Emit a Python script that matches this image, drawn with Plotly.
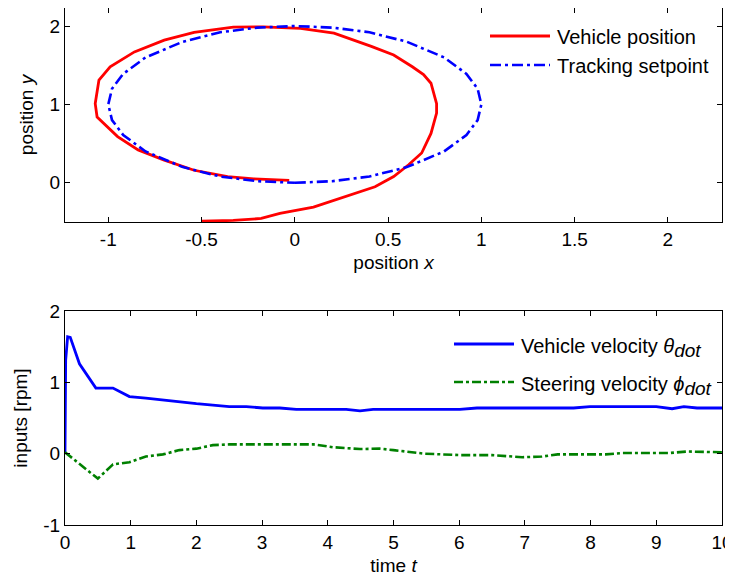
import plotly.graph_objects as go
from plotly.subplots import make_subplots

# ---- data: top panel (positions) ----
veh_x = [-0.50, -0.33, -0.18, -0.08, 0.10, 0.27, 0.43, 0.53, 0.61, 0.68, 0.73, 0.76, 0.76, 0.73,
         0.69, 0.63, 0.53, 0.41, 0.21, 0.03, -0.17, -0.33, -0.54, -0.70, -0.86, -0.99, -1.05,
         -1.07, -1.06, -0.95, -0.84, -0.70, -0.54, -0.36, -0.22, -0.03]
veh_y = [-0.49, -0.48, -0.455, -0.39, -0.31, -0.18, -0.05, 0.08, 0.23, 0.38, 0.63, 0.89, 1.01, 1.27,
         1.38, 1.48, 1.63, 1.74, 1.91, 1.97, 1.99, 1.985, 1.92, 1.82, 1.67, 1.48, 1.31,
         1.01, 0.84, 0.59, 0.42, 0.29, 0.16, 0.08, 0.05, 0.03]

sp_x = [0, 0.2, 0.4, 0.6, 0.8, 0.92, 0.98, 1.0, 0.98, 0.92, 0.8, 0.6, 0.4, 0.2, 0,
        -0.2, -0.4, -0.6, -0.8, -0.92, -0.98, -1.0, -0.98, -0.92, -0.8, -0.6, -0.4, -0.2, 0]
sp_y = [0, 0.02, 0.08, 0.2, 0.4, 0.61, 0.8, 1.0, 1.2, 1.39, 1.6, 1.8, 1.92, 1.98, 2.0,
        1.98, 1.92, 1.8, 1.6, 1.39, 1.2, 1.0, 0.8, 0.61, 0.4, 0.2, 0.08, 0.02, 0]

# ---- data: bottom panel (inputs) ----
t_vel = [0, 0.01, 0.04, 0.08, 0.22, 0.47, 0.73, 0.98, 1.23, 1.49, 2.0, 2.5, 2.76, 3.01, 3.27,
         3.52, 4.28, 4.49, 4.69, 6.01, 6.27, 7.74, 7.99, 9.0, 9.24, 9.42, 9.62, 10]
vel = [0, 1.31, 1.64, 1.63, 1.26, 0.92, 0.92, 0.80, 0.78, 0.75, 0.70, 0.66, 0.66, 0.64, 0.64,
       0.62, 0.62, 0.60, 0.62, 0.62, 0.64, 0.64, 0.66, 0.66, 0.63, 0.66, 0.64, 0.64]

t_steer = [0, 0.22, 0.5, 0.73, 0.98, 1.23, 1.49, 1.74, 2.0, 2.25, 2.5, 3.78, 4.08, 4.49, 4.79,
           5.0, 5.47, 6.01, 6.5, 6.96, 7.26, 7.5, 8.23, 8.49, 9.2, 9.47, 10]
steer = [0.02, -0.14, -0.35, -0.15, -0.12, -0.04, -0.01, 0.05, 0.07, 0.12, 0.13, 0.13, 0.09,
         0.065, 0.07, 0.05, 0.0, -0.02, -0.02, -0.05, -0.04, -0.01, -0.01, 0.01, 0.01, 0.03, 0.02]

top_xticks = [-1, -0.5, 0, 0.5, 1, 1.5, 2]
top_yticks = [0, 1, 2]
bot_xticks = [0, 1, 2, 3, 4, 5, 6, 7, 8, 9, 10]
bot_yticks = [-1, 0, 1, 2]

SUB = "<sub><span style='font-size:19px'><i>dot</i></span></sub>"
names_top = ["Vehicle position", "Tracking setpoint"]
names_bot = ["Vehicle velocity <i>θ</i>" + SUB,
             "Steering velocity <i>ϕ</i>" + SUB]

RED = "#FF0000"
BLUE = "#0000FF"
GREEN = "#008000"
FONT = "Liberation Sans, Arial, sans-serif"
FS = 19
LFS = 20
DASH_BLUE = "11px,4px,3px,4px"
DASH_GREEN = "9px,3px,3px,3px"

# page body has an 8px margin: figure is sized so that it fills the 733x580 window
OFF = 8
W, H = 733 - OFF, 580 - OFF
ML, MR, MT, MB = 57, 11, 0, 55
PW, PH = W - ML - MR, H - MT - MB

def px(x):
    return (x - OFF - ML) / PW

def py(y):
    return (H - MB - (y - OFF)) / PH

fig = make_subplots(rows=2, cols=1)

fig.add_trace(go.Scatter(x=veh_x, y=veh_y, mode="lines", name=names_top[0],
                         line=dict(color=RED, width=2.8), showlegend=False), row=1, col=1)
fig.add_trace(go.Scatter(x=sp_x, y=sp_y, mode="lines", name=names_top[1],
                         line=dict(color=BLUE, width=2.6, dash=DASH_BLUE),
                         showlegend=False), row=1, col=1)
fig.add_trace(go.Scatter(x=t_vel, y=vel, mode="lines", name="Vehicle velocity",
                         line=dict(color=BLUE, width=2.8), showlegend=False), row=2, col=1)
fig.add_trace(go.Scatter(x=t_steer, y=steer, mode="lines", name="Steering velocity",
                         line=dict(color=GREEN, width=2.6, dash=DASH_GREEN),
                         showlegend=False), row=2, col=1)

axis_common = dict(showgrid=False, zeroline=False, showline=True, linecolor="black",
                   linewidth=1, mirror="allticks", ticks="inside", ticklen=5,
                   tickcolor="black", tickwidth=1, automargin=False,
                   tickfont=dict(family=FONT, size=FS, color="black"))

fig.update_xaxes(axis_common)
fig.update_yaxes(axis_common)

tfont = dict(family=FONT, size=FS, color="black")
fig.update_xaxes(range=[-1.232, 2.29], tickvals=top_xticks,
                 ticktext=[("%g" % v) for v in top_xticks],
                 domain=[0, 1],
                 title=dict(text="position <i>x</i>", font=tfont, standoff=6),
                 row=1, col=1)
fig.update_yaxes(range=[-0.5, 2.23], tickvals=top_yticks,
                 ticktext=[("%g" % v) for v in top_yticks],
                 domain=[py(222), 1.0],
                 title=dict(text="position <i>y</i>", font=tfont, standoff=10),
                 row=1, col=1)
fig.update_xaxes(range=[0, 10], tickvals=bot_xticks,
                 ticktext=[("%g" % v) for v in bot_xticks], domain=[0, 1],
                 title=dict(text="time <i>t</i>", font=tfont, standoff=6),
                 row=2, col=1)
fig.update_yaxes(range=[-1, 2], tickvals=bot_yticks,
                 ticktext=[("%g" % v) for v in bot_yticks], domain=[0, py(311)],
                 title=dict(text="inputs [rpm]", font=tfont, standoff=10),
                 row=2, col=1)

# manual legends (MATLAB style: long line samples, no frame)
shapes = []
annotations = []
leg_top = [(36, RED, "solid", 2.8, names_top[0]), (65, BLUE, DASH_BLUE, 2.6, names_top[1])]
for yy, col, dash, wd, txt in leg_top:
    shapes.append(dict(type="line", xref="paper", yref="paper", x0=px(490), x1=px(550),
                       y0=py(yy), y1=py(yy), line=dict(color=col, width=wd, dash=dash)))
    annotations.append(dict(xref="paper", yref="paper", x=px(555), y=py(yy + 1), text=txt,
                            showarrow=False, xanchor="left", yanchor="middle",
                            font=dict(family=FONT, size=LFS, color="black")))
leg_bot = [(344, BLUE, "solid", 2.8, names_bot[0]), (382, GREEN, DASH_GREEN, 2.6, names_bot[1])]
for yy, col, dash, wd, txt in leg_bot:
    shapes.append(dict(type="line", xref="paper", yref="paper", x0=px(454), x1=px(514),
                       y0=py(yy), y1=py(yy), line=dict(color=col, width=wd, dash=dash)))
    annotations.append(dict(xref="paper", yref="paper", x=px(519), y=py(yy + 4), text=txt,
                            showarrow=False, xanchor="left", yanchor="middle",
                            font=dict(family=FONT, size=LFS, color="black")))

fig.update_layout(width=W, height=H, margin=dict(l=ML, r=MR, t=MT, b=MB, autoexpand=False),
                  paper_bgcolor="white", plot_bgcolor="white",
                  font=dict(family=FONT, size=FS, color="black"),
                  shapes=shapes, annotations=annotations, showlegend=False)

fig.write_html("out.html")
